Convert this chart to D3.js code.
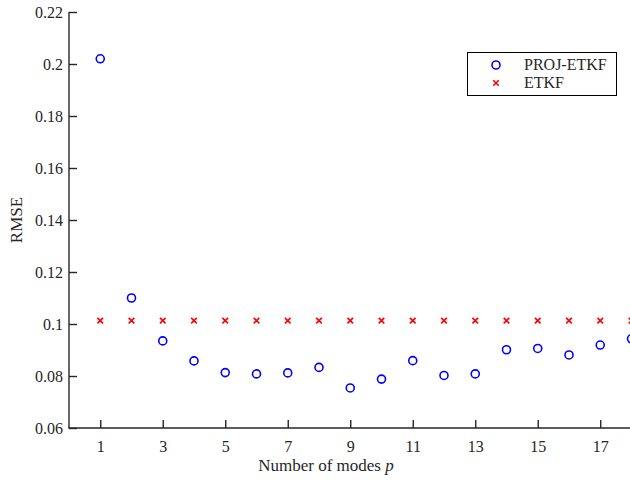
<!DOCTYPE html>
<html>
<head>
<meta charset="utf-8">
<script src="https://cdn.jsdelivr.net/npm/d3@7"></script>
<style>
  body { margin: 0; background: #fff; }
  text { font-family: "Liberation Serif", serif; fill: #262626; }
</style>
</head>
<body>
<svg id="chart"></svg>
<script>
const modes = [1, 2, 3, 4, 5, 6, 7, 8, 9, 10, 11, 12, 13, 14, 15, 16, 17, 18];
const projEtkf = [0.202, 0.110, 0.0935, 0.0858, 0.0813, 0.0808, 0.0812, 0.0833, 0.0754,
    0.0788, 0.0859, 0.0802, 0.0808, 0.0901, 0.0906, 0.0881, 0.0919, 0.0943];
const etkf = [0.1013, 0.1013, 0.1013, 0.1013, 0.1013, 0.1013, 0.1013, 0.1013, 0.1013,
    0.1013, 0.1013, 0.1013, 0.1013, 0.1013, 0.1013, 0.1013, 0.1013, 0.1013];
const xTicks = [1, 3, 5, 7, 9, 11, 13, 15, 17];
const yTicks = [0.06, 0.08, 0.1, 0.12, 0.14, 0.16, 0.18, 0.2, 0.22];
const seriesNames = ["PROJ-ETKF", "ETKF"];

const width = 630;
const height = 481;
const margin = { top: 12, left: 69, bottom: 53 };
const axisColor = "#262626";

const svg = d3.select("#chart")
    .attr("width", width)
    .attr("height", height);

const x = d3.scaleLinear()
    .domain([0, 18])
    .range([margin.left, margin.left + 18 * 31.25]);

const y = d3.scaleLinear()
    .domain([0.06, 0.22])
    .range([height - margin.bottom, margin.top]);

// axes
const xAxis = svg.append("g")
    .attr("transform", `translate(0,${y(0.06)})`)
    .call(d3.axisBottom(x).tickValues(xTicks).tickSize(-8).tickPadding(13)
        .tickFormat(d3.format("d")));

const yAxis = svg.append("g")
    .attr("transform", `translate(${x(0)},0)`)
    .call(d3.axisLeft(y).tickValues(yTicks).tickSize(-8).tickPadding(6)
        .tickFormat(d => d === 0.1 ? "0.1" : d === 0.2 ? "0.2" : d3.format(".2f")(d)));

[xAxis, yAxis].forEach(a => {
    a.select(".domain").attr("stroke", axisColor).attr("stroke-width", 1.4);
    a.selectAll(".tick line").attr("stroke", axisColor).attr("stroke-width", 1.4);
    a.selectAll(".tick text").attr("font-size", 16)
        .attr("font-family", "Liberation Serif, serif").attr("fill", axisColor);
});
// domains without outer ticks
yAxis.select(".domain").attr("d", `M0,${y(0.22)}V${y(0.06)}`);
xAxis.select(".domain").attr("d", `M${x(0) - 0.7},0H${width}`);

// data
const plot = svg.append("g");

plot.selectAll(".etkf")
    .data(modes)
    .enter()
    .append("path")
    .attr("class", "etkf")
    .attr("d", "M-2.8,-2.8L2.8,2.8M-2.8,2.8L2.8,-2.8")
    .attr("transform", (d, i) => `translate(${x(d)},${y(etkf[i])})`)
    .attr("stroke", "#ff0000")
    .attr("stroke-width", 1.6)
    .attr("fill", "none");

plot.selectAll(".proj")
    .data(modes)
    .enter()
    .append("circle")
    .attr("class", "proj")
    .attr("cx", d => x(d))
    .attr("cy", (d, i) => y(projEtkf[i]))
    .attr("r", 4)
    .attr("fill", "none")
    .attr("stroke", "#0000ff")
    .attr("stroke-width", 1.6);

// labels
svg.append("text")
    .attr("x", 326)
    .attr("y", 471)
    .attr("text-anchor", "middle")
    .attr("font-size", 17)
    .html('Number of modes <tspan font-style="italic">p</tspan>');

svg.append("text")
    .attr("transform", "translate(22,220) rotate(-90)")
    .attr("text-anchor", "middle")
    .attr("font-size", 17)
    .text("RMSE");

// legend
const legend = svg.append("g");
legend.append("rect")
    .attr("x", 467.5)
    .attr("y", 52.5)
    .attr("width", 149)
    .attr("height", 43)
    .attr("fill", "#fff")
    .attr("stroke", "#000")
    .attr("stroke-width", 1);

legend.append("circle")
    .attr("cx", 496)
    .attr("cy", 65)
    .attr("r", 4)
    .attr("fill", "none")
    .attr("stroke", "#0000ff")
    .attr("stroke-width", 1.6);

legend.append("path")
    .attr("d", "M-2.8,-2.8L2.8,2.8M-2.8,2.8L2.8,-2.8")
    .attr("transform", "translate(496,83)")
    .attr("stroke", "#ff0000")
    .attr("stroke-width", 1.6);

legend.selectAll(".legend-name")
    .data(seriesNames)
    .enter()
    .append("text")
    .attr("class", "legend-name")
    .attr("x", 524)
    .attr("y", (d, i) => 70 + i * 18)
    .attr("font-size", 16)
    .text(d => d);
</script>
</body>
</html>
